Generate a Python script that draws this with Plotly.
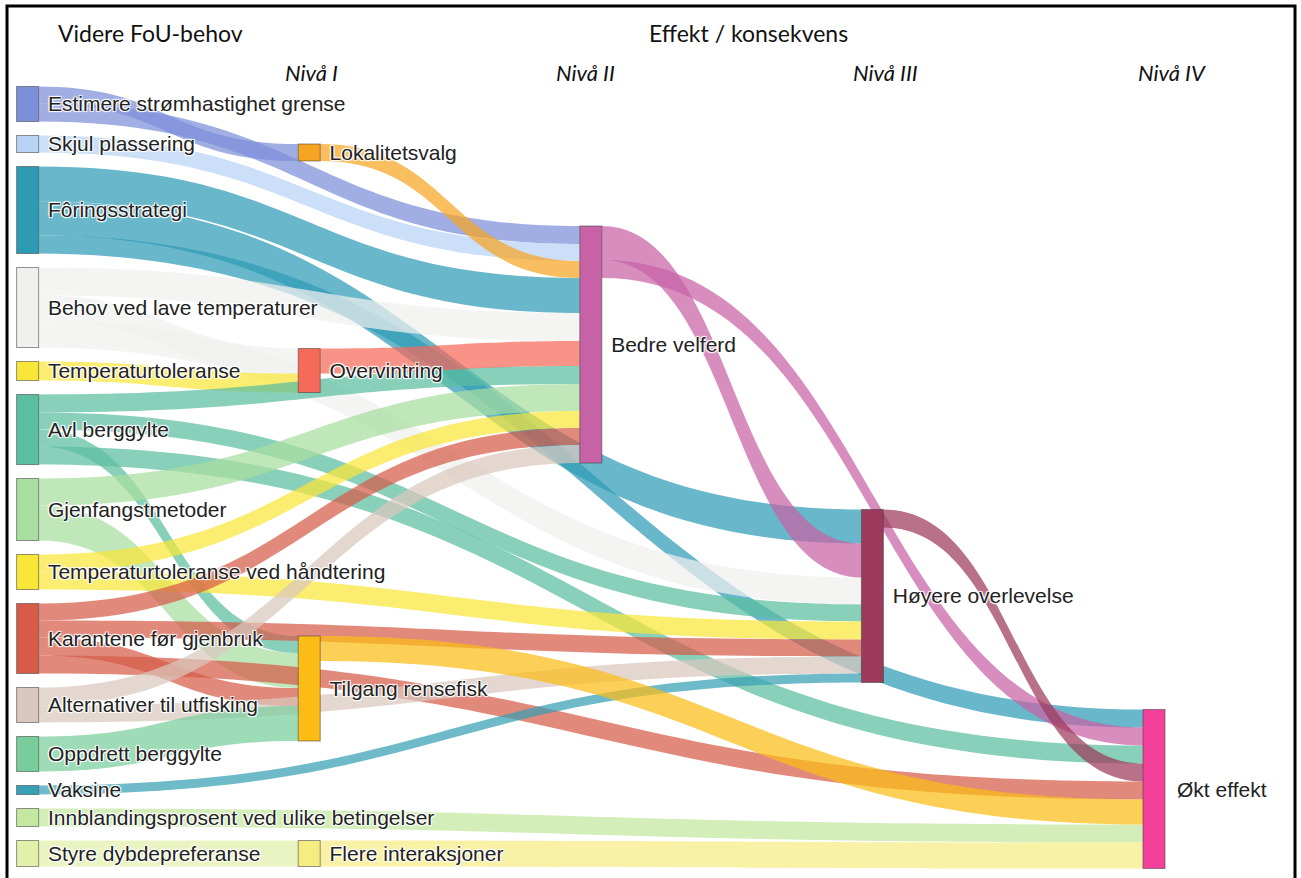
import plotly.graph_objects as go

# ---------------- data ----------------
node_labels = [
    "Estimere strømhastighet grense",      # 0
    "Skjul plassering",                    # 1
    "Fôringsstrategi",                     # 2
    "Behov ved lave temperaturer",         # 3
    "Temperaturtoleranse",                 # 4
    "Avl berggylte",                       # 5
    "Gjenfangstmetoder",                   # 6
    "Temperaturtoleranse ved håndtering",  # 7
    "Karantene før gjenbruk",              # 8
    "Alternativer til utfisking",          # 9
    "Oppdrett berggylte",                  # 10
    "Vaksine",                             # 11
    "Innblandingsprosent ved ulike betingelser",  # 12
    "Styre dybdepreferanse",               # 13
    "Lokalitetsvalg",                      # 14
    "Overvintring",                        # 15
    "Tilgang rensefisk",                   # 16
    "Flere interaksjoner",                 # 17
    "Bedre velferd",                       # 18
    "Høyere overlevelse",                  # 19
    "Økt effekt",                          # 20
]

link_source = [0, 0, 1, 2, 2, 2, 3, 3, 3, 4, 5, 5, 5, 5, 6, 6, 7, 7,
               8, 8, 8, 8, 9, 9, 10, 11, 12, 13, 14, 15, 16, 17, 18, 18, 19]
link_target = [14, 18, 18, 18, 19, 20, 18, 15, 19, 15, 18, 19, 20, 16, 18, 16, 18, 19,
               18, 19, 20, 16, 18, 19, 16, 19, 20, 17, 18, 18, 20, 20, 19, 20, 20]
link_value = [17, 18, 17, 35, 34, 18, 28, 25, 27, 19, 18, 17, 18, 17, 27, 35, 17, 18,
              17, 17, 18, 18, 18, 17, 35, 9, 18, 26, 17, 25, 25, 26, 34, 18, 18]

header_texts = ["Videre FoU-behov", "Effekt / konsekvens"]
level_texts = ["Nivå I", "Nivå II", "Nivå III", "Nivå IV"]

# ---------------- styles ----------------
node_rgb = [
    (124, 143, 217), (185, 211, 245), (46, 155, 181), (240, 240, 238),
    (250, 230, 55), (91, 190, 160), (168, 222, 160), (250, 230, 55),
    (214, 92, 72), (218, 200, 190), (120, 205, 155), (55, 160, 180),
    (196, 232, 160), (226, 240, 170), (245, 165, 35), (246, 106, 90),
    (251, 188, 22), (246, 236, 130), (200, 98, 166), (156, 58, 92),
    (245, 64, 155),
]
node_colors = ["rgb(%d,%d,%d)" % c for c in node_rgb]
link_colors = ["rgba(%d,%d,%d,0.72)" % node_rgb[s] for s in link_source]

FIG_W, FIG_H = 1301, 878
DOM_X0, DOM_X1 = 16, 1166          # px
DOM_Y0, DOM_Y1 = 86.5, 866.5       # px (top, bottom)
PAD = 14
THICK = 22
LABEL_FONT = "Liberation Sans, Arial, sans-serif"
dom_w = DOM_X1 - DOM_X0
dom_h = DOM_Y1 - DOM_Y0

col_centers_px = [27.6, 309.2, 590.8, 872.4, 1154.0]
node_col = [0] * 14 + [1, 1, 1, 1, 2, 3, 4]

# node heights (value = max(in, out))
n_nodes = len(node_labels)
vin = [0] * n_nodes
vout = [0] * n_nodes
for s, t, v in zip(link_source, link_target, link_value):
    vout[s] += v
    vin[t] += v
node_val = [max(a, b) for a, b in zip(vin, vout)]
ky = (dom_h - 13 * PAD) / sum(node_val[:14])

# column 0 nodes are stacked from the top; others placed at measured centres
center_px = [0.0] * n_nodes
y = DOM_Y0
for i in range(14):
    h = node_val[i] * ky
    center_px[i] = y + h / 2
    y += h + PAD
other_centers = {14: 152.5, 15: 370.5, 16: 688.5, 17: 853.5,
                 18: 344.5, 19: 596.0, 20: 789.0}
for k, v in other_centers.items():
    center_px[k] = v

node_x = [(col_centers_px[c] - DOM_X0) / dom_w for c in node_col]
node_y = [(c - DOM_Y0) / dom_h for c in center_px]

# last-column label is drawn to the right of its node (as in the reference)
last_idx = n_nodes - 1
shown_labels = ["\u00a0" + lab for lab in node_labels]
shown_labels[last_idx] = ""

fig = go.Figure(go.Sankey(
    arrangement="fixed",
    domain=dict(x=[DOM_X0 / FIG_W, DOM_X1 / FIG_W],
                y=[1 - DOM_Y1 / FIG_H, 1 - DOM_Y0 / FIG_H]),
    node=dict(
        label=shown_labels,
        customdata=node_labels,
        hovertemplate="%{customdata}<extra></extra>",
        color=node_colors,
        x=node_x,
        y=node_y,
        pad=PAD,
        thickness=THICK,
        line=dict(color="rgba(60,60,60,0.55)", width=1),
    ),
    link=dict(source=link_source, target=link_target, value=link_value,
              color=link_colors),
    textfont=dict(family=LABEL_FONT, size=21, color="#222"),
))

annotations = [dict(text=node_labels[last_idx], x=1175 / FIG_W, y=1 - center_px[last_idx] / FIG_H,
                    xref="paper", yref="paper", showarrow=False,
                    xanchor="left", yanchor="middle",
                    font=dict(family=LABEL_FONT, size=21, color="#222"))]
for txt, xc in zip(header_texts, [150, 748]):
    annotations.append(dict(text=txt, x=xc / FIG_W, y=1 - 33 / FIG_H, xref="paper", yref="paper",
                            showarrow=False, xanchor="center", yanchor="middle",
                            font=dict(family="Lato, Open Sans, sans-serif", size=23, color="#111")))
for txt, xc in zip(level_texts, [311, 585, 886, 1172]):
    annotations.append(dict(text="<i>" + txt + "</i>", x=xc / FIG_W, y=1 - 73 / FIG_H,
                            xref="paper", yref="paper", showarrow=False,
                            xanchor="center", yanchor="middle",
                            font=dict(family="Lato, Open Sans, sans-serif", size=22, color="#111")))

fig.update_layout(
    width=FIG_W, height=FIG_H,
    margin=dict(l=0, r=0, t=0, b=0),
    paper_bgcolor="white",
    annotations=annotations,
    shapes=[dict(type="rect", xref="paper", yref="paper",
                 x0=7 / FIG_W, x1=1295 / FIG_W, y0=1 - 884 / FIG_H, y1=1 - 6 / FIG_H,
                 line=dict(color="black", width=3), fillcolor="rgba(0,0,0,0)")],
)

fig.write_html("out.html", config={"displayModeBar": False},
               post_script="document.body.style.margin='0';")
